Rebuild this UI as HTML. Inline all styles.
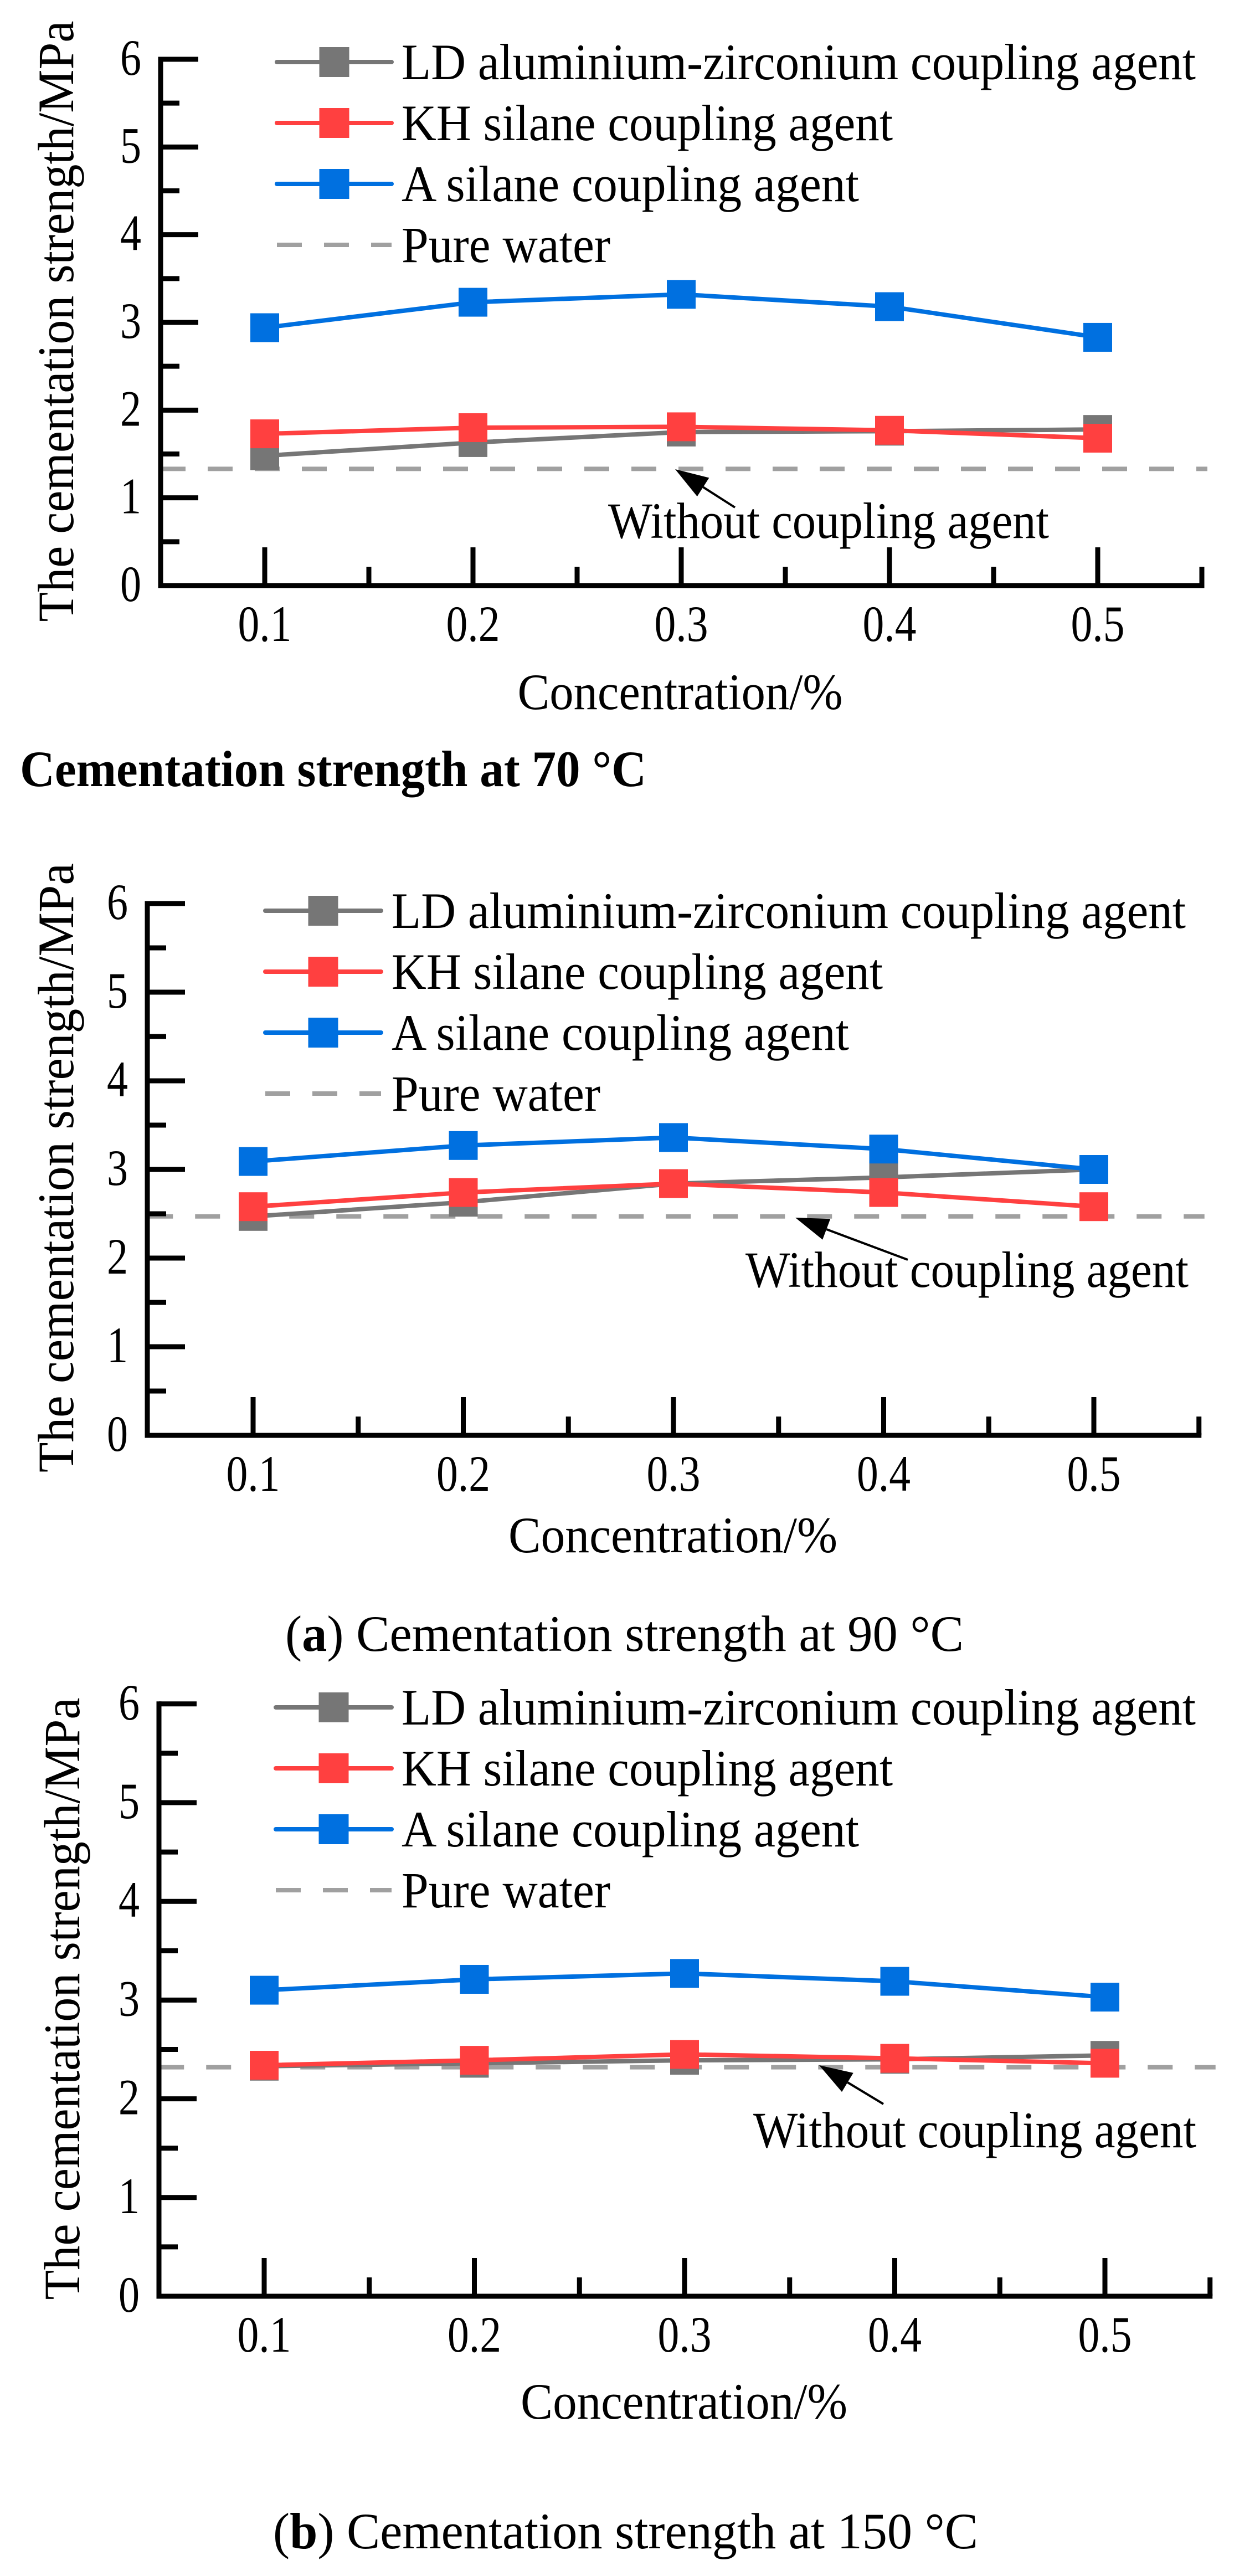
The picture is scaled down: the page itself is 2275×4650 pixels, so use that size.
<!DOCTYPE html>
<html><head><meta charset="utf-8"><style>
html,body{margin:0;padding:0;background:#fff;}
svg{display:block;font-family:"Liberation Serif","Times New Roman",serif;}
</style></head><body>
<svg id="fig" width="2275" height="4650" viewBox="0 0 2275 4650" xmlns="http://www.w3.org/2000/svg"></svg>
<script>
// ---- data ----
const categories = [0.1, 0.2, 0.3, 0.4, 0.5];
const xTickLabels = ["0.1", "0.2", "0.3", "0.4", "0.5"];
const yTickLabels = ["0", "1", "2", "3", "4", "5", "6"];
const seriesNames = ["LD aluminium-zirconium coupling agent", "KH silane coupling agent", "A silane coupling agent"];
const ld70 = [1.48, 1.63, 1.75, 1.76, 1.78];
const kh70 = [1.73, 1.80, 1.81, 1.77, 1.68];
const a70 = [2.94, 3.23, 3.32, 3.18, 2.83];
const water70 = 1.33;
const ld90 = [2.47, 2.63, 2.84, 2.91, 3.00];
const kh90 = [2.58, 2.74, 2.84, 2.74, 2.58];
const a90 = [3.09, 3.27, 3.36, 3.23, 3.00];
const water90 = 2.47;
const ld150 = [2.33, 2.36, 2.39, 2.40, 2.44];
const kh150 = [2.34, 2.39, 2.45, 2.41, 2.36];
const a150 = [3.10, 3.21, 3.27, 3.19, 3.03];
const water150 = 2.32;

const NS = "http://www.w3.org/2000/svg";
const svg = document.getElementById('fig');
const colors = ["#767676", "#ff4040", "#0070e0"];
function el(tag, attrs, parent) {
  const e = document.createElementNS(NS, tag);
  for (const k in attrs) e.setAttribute(k, attrs[k]);
  (parent || svg).appendChild(e);
  return e;
}
function txt(str, attrs, parent) { const t = el('text', attrs, parent); t.textContent = str; return t; }

const charts = [
  {id:'70', axisX:290, y0:1057, unit:158.33, x01:478, step:376, right:2171,
   series:[ld70,kh70,a70], water:water70,
   legY:112, legL:500, legR:707, legT:725,
   ytitle:{x:101, y:580, len:1085},
   xtitle:{x:1228, y:1280, len:587},
   note:{x:1098, y:971, len:796, tip:[1219,847], tail:[1327,916]}},
  {id:'90', axisX:266, y0:2591, unit:160, x01:457, step:379.5, right:2163,
   series:[ld90,kh90,a90], water:water90,
   legY:1644, legL:479, legR:688, legT:707,
   ytitle:{x:101, y:2108, len:1100},
   xtitle:{x:1215, y:2802, len:594},
   note:{x:1346, y:2323, len:800, tip:[1436,2198], tail:[1639,2274]}},
  {id:'150', axisX:287, y0:4145, unit:178.2, x01:477, step:379.5, right:2185,
   series:[ld150,kh150,a150], water:water150,
   legY:3082, legL:498, legR:707, legT:725,
   ytitle:{x:112, y:3608, len:1087},
   xtitle:{x:1235, y:4366, len:590},
   note:{x:1360, y:3876, len:800, tip:[1479,3728], tail:[1595,3798]}}
];
const legLens = [1434, 887, 826, 377];

charts.forEach(c => {
  const g = el('g', {});
  
  
  const xs = v => c.x01 + (v - 0.1) * 10 * c.step;
  const ys = v => c.y0 - v * c.unit;
  const x0 = xs(0.05), xEnd = xs(0.55);

  const w = el('line', {x1:x0, x2:xEnd + 10, y1:ys(c.water), y2:ys(c.water), stroke:'#a0a0a0', 'stroke-width':8, 'stroke-dasharray':'45 40'}, g);
  
  

  const ax = el('path', {d:`M${c.axisX} ${ys(6)} V${c.y0} H${xEnd}`, fill:'none', stroke:'#000', 'stroke-width':9, 'stroke-linecap':'square'}, g);
  
  
  for (let i = 0; i <= 12; i++) {
    const v = i * 0.5, y = ys(v), len = (i % 2 === 0) ? 68 : 34;
    el('line', {x1:c.axisX, x2:c.axisX + len, y1:y, y2:y, stroke:'#000', 'stroke-width':9}, g);
  }
  yTickLabels.forEach((lab, i) => {
    const t = txt(lab, {x:c.axisX - 35, y:ys(i) + 28, 'font-size':92, 'text-anchor':'end', textLength:38, lengthAdjust:'spacingAndGlyphs'}, g);
    
    
  });
  for (let i = 0; i < 10; i++) {
    const v = 0.1 + i * 0.05, x = xs(v), len = (i % 2 === 0) ? 69 : 34;
    el('line', {x1:x, x2:x, y1:c.y0, y2:c.y0 - len, stroke:'#000', 'stroke-width':9}, g);
  }
  categories.forEach((v, i) => {
    const t = txt(xTickLabels[i], {x:xs(v), y:c.y0 + 100, 'font-size':92, 'text-anchor':'middle', textLength:97, lengthAdjust:'spacingAndGlyphs'}, g);
    
    
  });

  c.series.forEach((vals, si) => {
    const pts = vals.map((v, i) => xs(categories[i]) + ',' + ys(v)).join(' ');
    const pl = el('polyline', {points:pts, fill:'none', stroke:colors[si], 'stroke-width':8}, g);
    
    
    vals.forEach((v, i) => {
      const r = el('rect', {x:xs(categories[i]) - 26, y:ys(v) - 26, width:52, height:52, fill:colors[si]}, g);
      
      
    });
  });

  const legendNames = seriesNames.concat(["Pure water"]);
  legendNames.forEach((nm, i) => {
    const y = c.legY + i * 110;
    const lg = el('g', {}, g);
    
    
    if (i < 3) {
      el('line', {x1:c.legL, x2:c.legR, y1:y, y2:y, stroke:colors[i], 'stroke-width':8, 'stroke-linecap':'round'}, lg);
      el('rect', {x:(c.legL + c.legR) / 2 - 27, y:y - 27, width:54, height:54, fill:colors[i]}, lg);
    } else {
      el('line', {x1:c.legL, x2:c.legR, y1:y, y2:y, stroke:'#a0a0a0', 'stroke-width':8, 'stroke-dasharray':'45 40'}, lg);
    }
    txt(nm, {x:c.legT, y:y + 31, 'font-size':92, textLength:legLens[i], lengthAdjust:'spacingAndGlyphs'}, lg);
  });

  const [tx, ty] = c.note.tip, [sx, sy] = c.note.tail;
  const ang = Math.atan2(ty - sy, tx - sx);
  const hl = 60, hw = 20;
  const bx = tx - hl * Math.cos(ang), by = ty - hl * Math.sin(ang);
  const an = el('g', {}, g);
  
  
  el('line', {x1:sx, y1:sy, x2:bx, y2:by, stroke:'#000', 'stroke-width':4}, an);
  el('polygon', {points:`${tx},${ty} ${bx + hw*Math.sin(ang)},${by - hw*Math.cos(ang)} ${bx - hw*Math.sin(ang)},${by + hw*Math.cos(ang)}`, fill:'#000'}, an);
  const nt = txt('Without coupling agent', {x:c.note.x, y:c.note.y, 'font-size':92, textLength:c.note.len, lengthAdjust:'spacingAndGlyphs'}, g);
  
  

  const yt = txt('The cementation strength/MPa', {x:0, y:0, 'font-size':92, 'text-anchor':'middle', 'dominant-baseline':'central', textLength:c.ytitle.len, lengthAdjust:'spacingAndGlyphs', transform:`translate(${c.ytitle.x},${c.ytitle.y}) rotate(-90)`}, g);
  
  
  const xt = txt('Concentration/%', {x:c.xtitle.x, y:c.xtitle.y, 'font-size':92, 'text-anchor':'middle', textLength:c.xtitle.len, lengthAdjust:'spacingAndGlyphs'}, g);
  
  
});

const c1 = txt('Cementation strength at 70 °C', {x:36, y:1419, 'font-size':92, 'font-weight':'bold', textLength:1131, lengthAdjust:'spacingAndGlyphs'});


const c2 = el('text', {x:515, y:2980, 'font-size':92, textLength:1225, lengthAdjust:'spacingAndGlyphs'});
c2.innerHTML = '(<tspan font-weight="bold">a</tspan>) Cementation strength at 90 °C';


const c3 = el('text', {x:493, y:4600, 'font-size':92, textLength:1273, lengthAdjust:'spacingAndGlyphs'});
c3.innerHTML = '(<tspan font-weight="bold">b</tspan>) Cementation strength at 150 °C';


</script>
</body></html>
